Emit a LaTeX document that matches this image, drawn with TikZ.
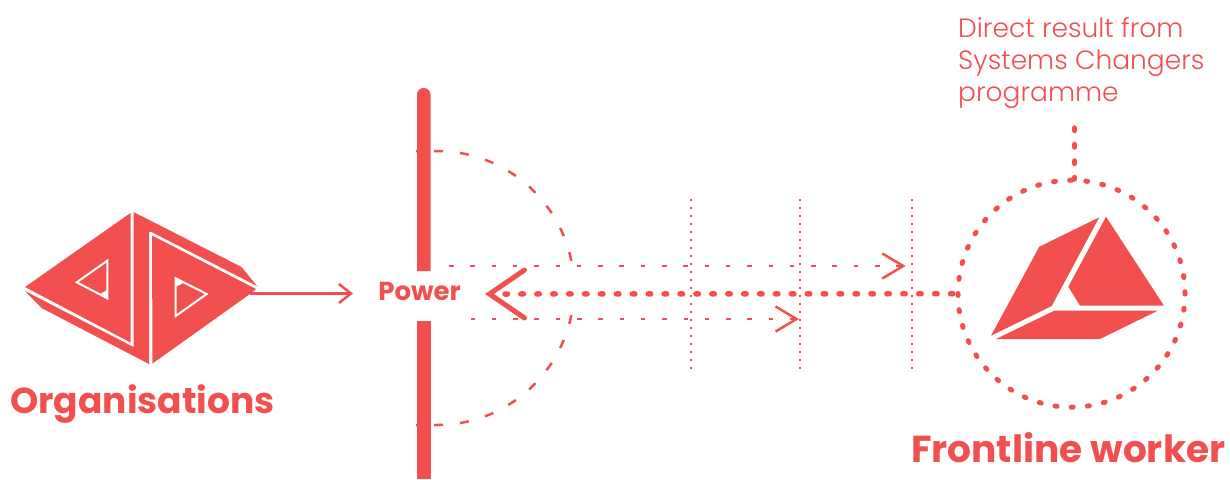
\documentclass[tikz,border=0pt]{standalone}
\usepackage{fontspec}
\setmainfont{Poppins}
\newfontfamily\lightfont[UprightFont=* Light]{Poppins}
\usetikzlibrary{arrows.meta}
\definecolor{brandred}{HTML}{F24F4F}
\tikzset{
    solidshape/.style={fill=brandred},
    cutline/.style={draw=white, line width=2pt, line join=miter},
    heading/.style={text=brandred, font=\fontsize{36}{40}\selectfont\bfseries, anchor=base west, inner sep=0pt},
    smalldots/.style={draw=brandred, line width=2.5pt, dash pattern=on 4.5pt off 16.8pt},
    bigdots/.style={draw=brandred, line width=5.5pt, line cap=round, dash pattern=on 2.5pt off 13.41pt},
    finedots/.style={draw=brandred, line width=2pt, dash pattern=on 1.8pt off 6.2pt},
    longdash/.style={draw=brandred, line width=2.5pt, dash pattern=on 9pt off 17pt, dash phase=8pt},
    barb/.style={-{Straight Barb[length=21pt,width=25pt,line width=2.5pt]}}
}
\begin{document}
\begin{tikzpicture}[x=1pt, y=-1pt]
    \useasboundingbox (0,0) rectangle (1230,479);

    % organisations
    \fill[solidshape] (25,287) -- (130.5,213) -- (130.5,342.5) -- cycle;
    \fill[solidshape] (133.5,212) -- (241.5,267) -- (257,286) -- (150.5,231.5) -- (149,232)
        -- (149,364) -- (41.5,308) -- (25,291) -- (133.5,347) -- cycle;
    \fill[solidshape] (152,235.5) -- (256,289) -- (250,294) -- (152.5,363.5) -- cycle;
    \draw[cutline] (107.3,260.7) -- (76.7,282.3) -- (107.3,298.3) -- cycle;
    \draw[cutline] (175.7,278.3) -- (206.7,294) -- (175.7,316) -- cycle;
    \fill[white] (100,294) -- (107.3,298.3) -- (107.3,290) -- cycle;
    \fill[white] (175.7,278.3) -- (184,282.5) -- (175.7,287) -- cycle;
    \node[heading] (orgs) at (10,413) {Organisations};

    \coordinate (orgtip) at (250,293.5);
    \coordinate (powerin) at (353,293.5);
    \draw[draw=brandred, line width=2.5pt, -{Straight Barb[length=12pt,width=19pt,line width=2.5pt]}] (orgtip) -- (powerin);

    % power wall
    \fill[solidshape, rounded corners=6.5pt] (417,271) -- (417,88) -- (430.5,88) -- (430.5,271);
    \fill[solidshape] (417,321) rectangle (430.5,479);
    \node[text=brandred, font=\fontsize{26}{28}\selectfont\bfseries, anchor=base, inner sep=0pt] (power) at (419.5,300.7) {Power};

    \draw[longdash] (416,151) -- (437,151) arc[start angle=90, end angle=10, radius=137pt];
    \draw[longdash] (416,425) -- (437,425) arc[start angle=-90, end angle=-10, radius=137pt];

    % fine vertical rows
    \foreach \x in {690.5, 800, 912}
        \draw[finedots] (\x,199) -- (\x,369);

    % worker
    \node[circle, draw=brandred, line width=5pt, line cap=round, dash pattern=on 2pt off 14.2pt,
          minimum size=227pt, inner sep=0pt] (worker) at (1071.5,293.7) {};
    \fill[solidshape] (1099.3,217.3) -- (1039.3,246.7) -- (991,335.7) -- (1051.7,306) -- cycle;
    \fill[solidshape] (1106,216.7) -- (1164,305.7) -- (1080,305.7) -- (1068.3,286.7) -- cycle;
    \fill[solidshape] (1054.3,310.7) -- (1157.7,310.7) -- (1100,339) -- (996,339) -- cycle;
    \node[heading, font=\fontsize{37.5}{40}\selectfont\bfseries] (frontline) at (911,462) {Frontline worker};

    % flows
    \coordinate (flowtop) at (449,266);
    \coordinate (flowtopend) at (905.7,266);
    \coordinate (flowlow) at (470.5,319);
    \coordinate (flowlowend) at (799,319);
    \draw[smalldots, barb] (flowtop) -- (flowtopend);
    \draw[smalldots, barb] (flowlow) -- (flowlowend);

    \coordinate (flowend) at (505,294);
    \draw[bigdots] (flowend) -- (worker.west);
    \coordinate (chevtop) at (524.5,270);
    \coordinate (chevtip) at (489.5,294);
    \coordinate (chevlow) at (524.5,318);
    \draw[draw=brandred, line width=5pt, line cap=round, line join=miter] (chevtop) -- (chevtip) -- (chevlow);

    % note
    \node[text=brandred, font=\lightfont\fontsize{26.5}{32}\selectfont, align=left, anchor=north west, inner sep=0pt] (note) at (958,17)
        {Direct result from\\Systems Changers\\programme};
    \coordinate (notefoot) at (1074.5,128);
    \coordinate (notejoin) at (1074.5,179);
    \draw[bigdots, dash pattern=on 2.5pt off 14pt] (notefoot) -- (notejoin);
\end{tikzpicture}
\end{document}
